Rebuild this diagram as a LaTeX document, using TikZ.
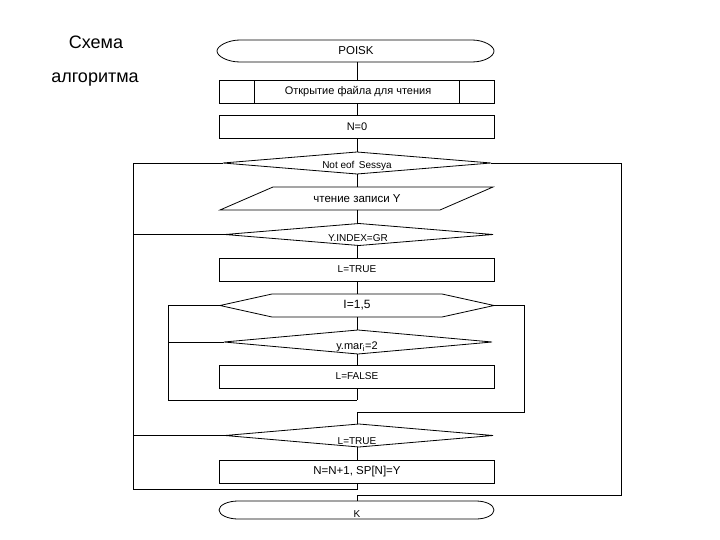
\documentclass[tikz,border=0pt]{standalone}
\usepackage{fontspec}
\setmainfont{Liberation Sans}
\usetikzlibrary{shapes.geometric}
\tikzset{
  ln/.style={line width=0.8pt, black},
  box/.style={draw, ln, rectangle, minimum width=275pt, minimum height=23pt, inner sep=0pt, outer sep=0pt},
  holder/.style={rectangle, minimum width=274pt, minimum height=23pt, inner sep=0pt, outer sep=0pt},
  dia/.style={draw, ln, diamond, minimum width=268pt, minimum height=22pt, inner sep=0pt, outer sep=0pt},
  lbl/.style={inner sep=0pt, font=\fontsize{10}{12}\selectfont},
}
\begin{document}
\begin{tikzpicture}[x=1pt,y=-1pt]
\useasboundingbox (0,0) rectangle (720,540);
% title
\node[font=\fontsize{18}{22}\selectfont] (t1) at (96,42) {Схема};
\node[font=\fontsize{18}{22}\selectfont] (t2) at (95,80) {алгоритма};
% POISK terminator
\node[holder, minimum width=278pt, minimum height=22pt] (poisk) at (357,51) {};
\draw[ln] (240,40) -- (472,40) .. controls (484,40) and (494,46) .. (494,51)
  .. controls (494,56.5) and (484,62) .. (472,62) -- (240,62)
  .. controls (228,62) and (217,56.5) .. (217,51)
  .. controls (217,46) and (228,40) .. (240,40) -- cycle;
\node[lbl, font=\fontsize{11.5}{13}\selectfont] at (356,51) {POISK};
% open file
\node[box] (open) at (357,92) {};
\draw[ln] (254,80.5) -- (254,103.5) (459,80.5) -- (459,103.5);
\node[lbl, font=\fontsize{11}{13}\selectfont] at (358,92) {Открытие файла для чтения};
% N=0
\node[box] (n0) at (357,127) {};
\node[lbl, font=\fontsize{11}{13}\selectfont] at (357,127) {N=0};
% diamond 1
\node[dia] (d1) at (357,163) {};
\node[lbl, font=\fontsize{10}{12}\selectfont] at (357,166) {Not eof\, Sessya};
% read parallelogram
\node[holder, minimum width=220pt] (rd) at (357,198.5) {};
\draw[ln] (273,187) -- (493,187) -- (440,210) -- (220,210) -- cycle;
\node[lbl, font=\fontsize{11.5}{13}\selectfont] at (357,199) {чтение записи Y};
% diamond 2
\node[dia] (d2) at (359,234.5) {};
\node[lbl, font=\fontsize{10}{12}\selectfont] at (358,238) {Y.INDEX=GR};
% L=TRUE box
\node[box] (lt) at (357,270) {};
\node[lbl, font=\fontsize{10}{12}\selectfont] at (357,269) {L=TRUE};
% hexagon
\node[holder] (hex) at (357,305.5) {};
\draw[ln] (220,305.5) -- (272,294) -- (442,294) -- (494,305.5) -- (442,317) -- (272,317) -- cycle;
\node[lbl, font=\fontsize{12}{14}\selectfont] at (357,305) {I=1,5};
% diamond 3
\node[dia, minimum height=24pt] (d3) at (358,342) {};
\node[lbl, font=\fontsize{11}{13}\selectfont] at (357,347) {y.mar\textsubscript{i}=2};
% L=FALSE
\node[box] (lf) at (357,377) {};
\node[lbl, font=\fontsize{10}{12}\selectfont] at (357,376.5) {L=FALSE};
% diamond 4
\node[dia, minimum height=23pt] (d4) at (359,435.5) {};
\node[lbl, font=\fontsize{10}{12}\selectfont] at (357,441) {L=TRUE};
% N=N+1
\node[box] (nn) at (357,471.5) {};
\node[lbl, font=\fontsize{11.5}{13}\selectfont] at (357,471.5) {N=N+1, SP[N]=Y};
% K terminator
\node[holder, minimum height=18pt] (k) at (357,510) {};
\draw[ln] (238,501) -- (476,501) .. controls (486,501) and (494,505) .. (494,510)
  .. controls (494,515) and (486,519) .. (476,519) -- (238,519)
  .. controls (228,519) and (219,515) .. (219,510)
  .. controls (219,505) and (228,501) .. (238,501) -- cycle;
\node[lbl, font=\fontsize{10}{12}\selectfont] at (357,514.5) {K};
% helper coordinates
\coordinate (lbot) at (133,489);
\coordinate (rbot) at (621,495);
\coordinate (hl) at (168,400);
\coordinate (hr) at (524,412);
% main flow
\draw[ln] (poisk.south) -- (open.north);
\draw[ln] (open.south) -- (n0.north);
\draw[ln] (n0.south) -- (d1.north -| n0.south);
\draw[ln] (d1.south -| n0.south) -- (rd.north);
\draw[ln] (rd.south) -- (d2.north -| rd.south);
\draw[ln] (d2.south -| rd.south) -- (lt.north);
\draw[ln] (lt.south) -- (hex.north);
\draw[ln] (hex.south) -- (d3.north -| hex.south);
\draw[ln] (d3.south -| hex.south) -- (lf.north);
\draw[ln] (lf.south) -- (lf.south |- hl);
\draw[ln] (hr -| lf.south) -- (d4.north -| lf.south);
\draw[ln] (d4.south -| nn.north) -- (nn.north);
% loops
\draw[ln] (nn.south) -- (nn.south |- lbot) -- (lbot) |- (d1.west);
\draw[ln] (d2.west) -- (d2.west -| lbot);
\draw[ln] (d4.west) -- (d4.west -| lbot);
\draw[ln] (d1.east) -| (rbot) -- (rbot -| k.north) -- (k.north);
\draw[ln] (hex.west) -| (hl) -- (hl -| lf.south);
\draw[ln] (d3.west) -- (d3.west -| hl);
\draw[ln] (hex.east) -| (hr) -- (hr -| lf.south);
\end{tikzpicture}
\end{document}
